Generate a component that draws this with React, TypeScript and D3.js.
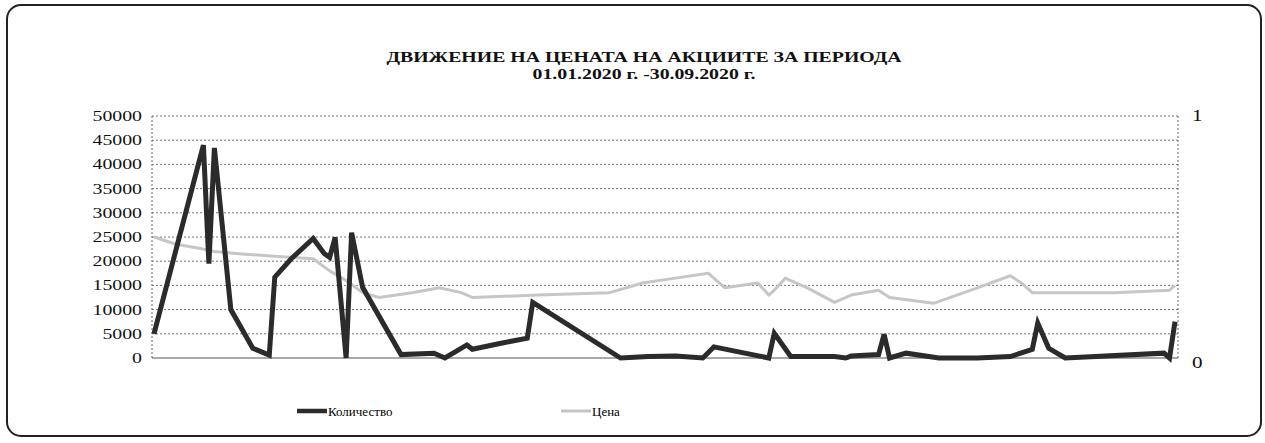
import React from 'react';
import * as d3 from 'd3';

const titleLines = ['ДВИЖЕНИЕ НА ЦЕНАТА НА АКЦИИТЕ ЗА ПЕРИОДА', '01.01.2020 г. -30.09.2020 г.'];
const seriesNames = ['Количество', 'Цена'];

// trading day index -> volume (only the days where the line bends)
const dayCount = 187;
const volumeDays = [0, 9, 10, 11, 14, 18, 21, 22, 25, 29, 31, 32, 33, 35, 36, 38, 45, 51, 53, 57, 58, 63, 68, 69, 85, 90, 95, 100, 102, 112, 113, 116, 124, 126, 127, 132, 133, 134, 137, 143, 150, 156, 159, 160, 161, 163, 166, 184, 185, 186];
const volumeValues = [5000, 44000, 19500, 43400, 10000, 2000, 600, 16700, 20500, 24700, 21600, 20800, 24900, 0, 25900, 14600, 700, 1000, 0, 2700, 1800, 3000, 4100, 11500, 0, 300, 400, 0, 2300, 0, 5100, 300, 300, 0, 400, 700, 4900, 0, 1000, 0, 0, 300, 1400, 1800, 7200, 2000, 0, 1000, 0, 7500];

const priceDays = [0, 4, 9, 11, 16, 22, 29, 32, 35, 38, 41, 47, 52, 56, 58, 70, 83, 89, 95, 101, 104, 110, 112, 113, 115, 119, 124, 127, 132, 134, 142, 150, 156, 158, 160, 163, 175, 185, 186];
const priceValues = [0.5, 0.47, 0.45, 0.44, 0.43, 0.42, 0.41, 0.36, 0.32, 0.27, 0.25, 0.27, 0.29, 0.27, 0.25, 0.26, 0.27, 0.31, 0.33, 0.35, 0.29, 0.31, 0.26, 0.28, 0.33, 0.29, 0.23, 0.26, 0.28, 0.25, 0.226, 0.29, 0.34, 0.31, 0.27, 0.27, 0.27, 0.28, 0.3];

const leftTicks = [0, 5000, 10000, 15000, 20000, 25000, 30000, 35000, 40000, 45000, 50000];
const rightTicks = [0, 1];

const W = 1265;
const H = 443;
const plot = { left: 152, right: 1178, top: 116, bottom: 358 };
const font = '"Liberation Serif", "Times New Roman", serif';
// the scanned page is stretched sideways, so the text is too
const stretch = 1.32;

const Label = ({ x, y, anchor = 'start', size, bold = false, children }) => (
  <text
    transform={`translate(${x},${y}) scale(${stretch},1)`}
    textAnchor={anchor}
    fontFamily={font}
    fontSize={size}
    fontWeight={bold ? 'bold' : 'normal'}
    fill="#111"
  >
    {children}
  </text>
);

export default function App() {
  const x = d3.scaleLinear().domain([0, dayCount - 1]).range([154, 1175]);
  const yLeft = d3.scaleLinear().domain([0, 50000]).range([plot.bottom, plot.top]);
  const yRight = d3.scaleLinear().domain([0, 1]).range([plot.bottom, plot.top]);

  const volumeLine = d3.line<number>()
    .x((d, i) => x(volumeDays[i]))
    .y((d) => yLeft(d));
  const priceLine = d3.line<number>()
    .x((d, i) => x(priceDays[i]))
    .y((d) => yRight(d));

  return (
    <svg width={W} height={H} style={{ position: 'absolute', left: 0, top: 0, background: '#fff' }}>
      <rect x={7} y={5} width={1254} height={431} rx={14} fill="none" stroke="#222" strokeWidth={2} />

      <Label x={644} y={62} anchor="middle" size={15} bold>{titleLines[0]}</Label>
      <Label x={644} y={79} anchor="middle" size={15} bold>{titleLines[1]}</Label>

      {leftTicks.map((t) => (
        <line key={t} x1={plot.left} x2={plot.right} y1={yLeft(t)} y2={yLeft(t)}
          stroke={t === 0 ? '#555' : '#777'} strokeWidth={1} strokeDasharray={t === 0 ? undefined : '2,2'} />
      ))}
      <line x1={plot.left} x2={plot.left} y1={plot.top} y2={plot.bottom} stroke="#666" strokeDasharray="2,2" />
      <line x1={plot.right} x2={plot.right} y1={plot.top} y2={plot.bottom} stroke="#666" strokeDasharray="2,2" />

      {leftTicks.map((t) => (
        <Label key={t} x={142} y={yLeft(t) + 5} anchor="end" size={15}>{t}</Label>
      ))}
      {rightTicks.map((t) => (
        <Label key={t} x={1192} y={yRight(t) + (t === 0 ? 10 : 5)} size={16}>{t}</Label>
      ))}

      <path d={priceLine(priceValues) || ''} fill="none" stroke="#c6c6c6" strokeWidth={3} strokeLinejoin="round" />
      <path d={volumeLine(volumeValues) || ''} fill="none" stroke="#2b2b2b" strokeWidth={5} strokeLinejoin="miter" />

      <line x1={297} x2={327} y1={411} y2={411} stroke="#2b2b2b" strokeWidth={4.5} />
      <text x={328} y={416} fontFamily={font} fontSize={13}>{seriesNames[0]}</text>
      <line x1={561} x2={591} y1={411} y2={411} stroke="#c6c6c6" strokeWidth={3} />
      <text x={592} y={416} fontFamily={font} fontSize={13}>{seriesNames[1]}</text>
    </svg>
  );
}
